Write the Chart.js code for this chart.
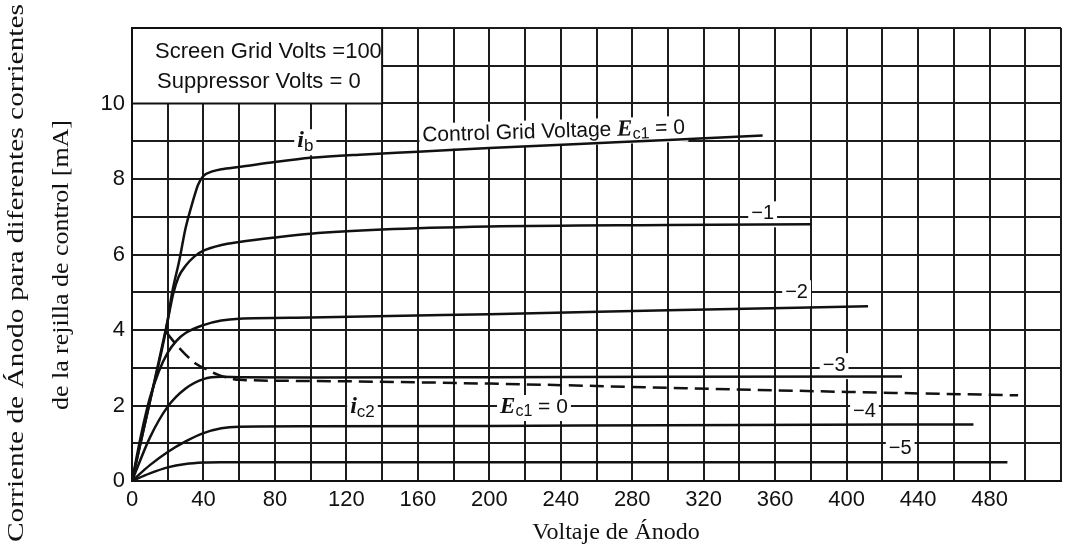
<!DOCTYPE html>
<html>
<head>
<meta charset="utf-8">
<script src="https://cdn.jsdelivr.net/npm/chart.js@4.4.1/dist/chart.umd.min.js"></script>
<style>
  html, body { margin: 0; padding: 0; background: #fff; }
</style>
</head>
<body>
<canvas id="plate" width="1067" height="550"></canvas>
<script>
// plate voltage (V) and plate current (mA)
const vEc0 = [0, 10, 19, 22.5, 26.5, 30, 34, 37, 40, 45, 50, 60, 80, 100, 130, 160, 200, 250, 300, 353];
const iEc0 = [0, 2.1, 4.0, 5.0, 5.85, 6.7, 7.4, 7.85, 8.08, 8.2, 8.26, 8.32, 8.45, 8.56, 8.65, 8.72, 8.82, 8.93, 9.03, 9.15];
const vEc1 = [0, 10, 20, 23, 26, 30, 35, 40, 50, 60, 80, 100, 140, 200, 300, 380];
const iEc1 = [0, 2.1, 4.25, 4.95, 5.4, 5.7, 5.95, 6.1, 6.25, 6.33, 6.45, 6.55, 6.66, 6.74, 6.78, 6.8];
const vEc2 = [0, 5, 10, 15, 20, 25, 30, 40, 50, 60, 100, 200, 300, 412];
const iEc2 = [0, 1.2, 2.2, 2.9, 3.4, 3.72, 3.92, 4.13, 4.25, 4.3, 4.33, 4.42, 4.52, 4.63];
const vEc3 = [0, 10, 20, 30, 40, 50, 60, 100, 200, 300, 431];
const iEc3 = [0, 1.15, 1.97, 2.45, 2.7, 2.76, 2.75, 2.74, 2.75, 2.76, 2.77];
const vEc4 = [0, 10, 20, 30, 40, 50, 60, 100, 200, 300, 471];
const iEc4 = [0, 0.42, 0.77, 1.05, 1.27, 1.4, 1.44, 1.45, 1.46, 1.48, 1.5];
const vEc5 = [0, 10, 20, 30, 40, 50, 100, 200, 300, 490];
const iEc5 = [0, 0.2, 0.36, 0.45, 0.49, 0.5, 0.5, 0.5, 0.5, 0.5];
// screen grid current for Ec1 = 0 (dashed)
const vScreen = [19, 25, 30, 36, 42, 48, 55, 60, 100, 200, 300, 400, 496];
const iScreen = [3.95, 3.6, 3.35, 3.1, 2.95, 2.82, 2.72, 2.68, 2.65, 2.58, 2.47, 2.36, 2.27];

// tick labels
const xTickLabels = [0, 40, 80, 120, 160, 200, 240, 280, 320, 360, 400, 440, 480];
const yTickLabels = [0, 2, 4, 6, 8, 10];

const SANS = "'Liberation Sans', Arial, sans-serif";
const SERIF = "'Liberation Serif', 'Times New Roman', serif";

// curve labels, placed in data units (V, mA)
const curveLabels = [
  { x: 97, y: 9.0, runs: [["i", "bold italic 24px " + SERIF, 0], ["b", "17px " + SANS, 5]] },
  { x: 236, y: 9.25, rot: -0.03, runs: [["Control Grid Voltage ", "21px " + SANS, 0], ["E", "bold italic 23px " + SERIF, 0], ["c1", "16px " + SANS, 5], [" = 0", "21px " + SANS, 0]] },
  { x: 353, y: 7.09, runs: [["\u22121", "20px " + SANS, 0]] },
  { x: 372, y: 5.0, runs: [["\u22122", "20px " + SANS, 0]] },
  { x: 393, y: 3.07, runs: [["\u22123", "20px " + SANS, 0]] },
  { x: 410, y: 1.83, runs: [["\u22124", "20px " + SANS, 0]] },
  { x: 430, y: 0.85, runs: [["\u22125", "20px " + SANS, 0]] },
  { x: 129, y: 1.96, runs: [["i", "bold italic 24px " + SERIF, 0], ["c2", "17px " + SANS, 5]] },
  { x: 225, y: 1.96, runs: [["E", "bold italic 23px " + SERIF, 0], ["c1", "16px " + SANS, 5], [" = 0", "21px " + SANS, 0]] }
];

const pts = (xs, ys) => xs.map((x, i) => ({ x: x, y: ys[i] }));

function curve(xs, ys, dash) {
  return {
    data: pts(xs, ys),
    showLine: true,
    borderColor: "#111",
    borderWidth: 2.5,
    borderDash: dash || [],
    pointRadius: 0,
    cubicInterpolationMode: "monotone",
    fill: false
  };
}

function runsWidth(ctx, runs) {
  let w = 0;
  runs.forEach(r => { ctx.font = r[1]; w += ctx.measureText(r[0]).width; });
  return w;
}

function labelAt(ctx, chart, l, withText) {
  const cx = chart.scales.x.getPixelForValue(l.x);
  const cy = chart.scales.y.getPixelForValue(l.y);
  const w = runsWidth(ctx, l.runs);
  ctx.save();
  ctx.translate(cx, cy);
  if (l.rot) ctx.rotate(l.rot);
  if (!withText) {
    ctx.fillStyle = "#fff";
    ctx.fillRect(-w / 2 - 3, -12, w + 6, 26);
  } else {
    ctx.fillStyle = "#111";
    ctx.textBaseline = "middle";
    ctx.textAlign = "left";
    let x = -w / 2;
    l.runs.forEach(r => {
      ctx.font = r[1];
      ctx.fillText(r[0], x, r[2]);
      x += ctx.measureText(r[0]).width;
    });
  }
  ctx.restore();
}

function stretchedText(ctx, text, font, cx, cy, len) {
  ctx.save();
  ctx.font = font;
  const w = ctx.measureText(text).width;
  ctx.translate(cx, cy);
  ctx.rotate(-Math.PI / 2);
  ctx.scale(len / w, 1);
  ctx.textAlign = "center";
  ctx.textBaseline = "middle";
  ctx.fillStyle = "#111";
  ctx.fillText(text, 0, 0);
  ctx.restore();
}

const decorations = {
  id: "decorations",
  beforeDatasetsDraw(chart) {
    // white patches under the labels hide the grid, curves still pass over
    curveLabels.forEach(l => labelAt(chart.ctx, chart, l, false));
  },
  afterDatasetsDraw(chart) {
    const ctx = chart.ctx;
    const xs = chart.scales.x, ys = chart.scales.y;

    // operating conditions box over the top-left grid cells
    const bx = xs.getPixelForValue(0), by = ys.getPixelForValue(12);
    const bw = xs.getPixelForValue(140) - bx, bh = ys.getPixelForValue(10) - by;
    ctx.save();
    ctx.fillStyle = "#fff";
    ctx.fillRect(bx, by, bw, bh);
    ctx.strokeStyle = "#111";
    ctx.lineWidth = 2;
    ctx.strokeRect(bx, by, bw, bh);
    ctx.fillStyle = "#111";
    ctx.font = "22px " + SANS;
    ctx.textBaseline = "middle";
    ctx.fillText("Screen Grid Volts =100", bx + 23, by + 24);
    ctx.fillText("Suppressor Volts = 0", bx + 25, by + 54);
    ctx.restore();

    curveLabels.forEach(l => labelAt(ctx, chart, l, true));
  },
  afterDraw(chart) {
    const ctx = chart.ctx;
    ctx.save();
    ctx.fillStyle = "#111";
    ctx.font = "24px " + SERIF;
    ctx.textAlign = "center";
    ctx.textBaseline = "middle";
    ctx.fillText("Voltaje de \u00c1nodo", 616, 533);
    ctx.restore();
    stretchedText(ctx, "Corriente de \u00c1nodo para diferentes corrientes", "24px " + SERIF, 17, 273, 538);
    stretchedText(ctx, "de la rejilla de control [mA]", "24px " + SERIF, 62, 265, 290);
  }
};

new Chart(document.getElementById("plate"), {
  type: "scatter",
  data: {
    datasets: [
      curve(vEc0, iEc0),
      curve(vEc1, iEc1),
      curve(vEc2, iEc2),
      curve(vEc3, iEc3),
      curve(vEc4, iEc4),
      curve(vEc5, iEc5),
      curve(vScreen, iScreen, [14, 7])
    ]
  },
  options: {
    responsive: false,
    animation: false,
    layout: { padding: { top: 28, right: 3, left: 0, bottom: 0 } },
    plugins: { legend: { display: false }, tooltip: { enabled: false } },
    scales: {
      x: {
        type: "linear", min: 0, max: 520,
        afterFit: s => { s.height = 69; },
        grid: { color: "#1c1c1c", lineWidth: 2, drawTicks: false },
        border: { color: "#111", width: 2 },
        ticks: {
          stepSize: 20, autoSkip: false, maxRotation: 0, padding: 6, color: "#111",
          font: { family: "Liberation Sans", size: 22 },
          callback: v => xTickLabels.includes(v) ? v : ""
        }
      },
      y: {
        type: "linear", min: 0, max: 12,
        afterFit: s => { s.width = 132; },
        grid: { color: "#1c1c1c", lineWidth: 2, drawTicks: false },
        border: { color: "#111", width: 2 },
        ticks: {
          stepSize: 1, autoSkip: false, padding: 7, color: "#111",
          font: { family: "Liberation Sans", size: 22 },
          callback: v => yTickLabels.includes(v) ? v : ""
        }
      }
    }
  },
  plugins: [decorations]
});
</script>
</body>
</html>
